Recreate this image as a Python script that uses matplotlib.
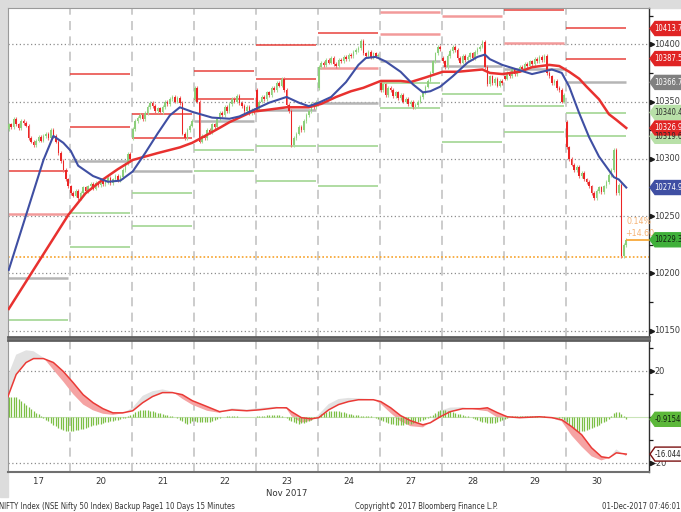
import numpy as np
import matplotlib
matplotlib.use("Agg")
import matplotlib.pyplot as plt
from matplotlib.patches import Polygon, Rectangle
from matplotlib.transforms import blended_transform_factory
from matplotlib import font_manager

# ---------------- data ----------------
days = ['17', '20', '21', '22', '23', '24', '27', '28', '29', '30']
bars_per_day = 25

close_17 = [10330, 10328, 10335, 10330, 10327, 10333, 10331, 10329, 10318, 10315, 10312, 10316, 10319,
            10316, 10320, 10322, 10318, 10325, 10320, 10315, 10305, 10298, 10290, 10282, 10276]
close_20 = [10270, 10268, 10272, 10266, 10270, 10275, 10272, 10276, 10278, 10274, 10279, 10277, 10282,
            10278, 10280, 10283, 10279, 10282, 10285, 10281, 10284, 10290, 10296, 10304, 10300]
close_21 = [10326, 10333, 10336, 10338, 10335, 10340, 10345, 10349, 10346, 10342, 10344, 10341, 10345,
            10350, 10348, 10352, 10354, 10350, 10353, 10349, 10322, 10318, 10325, 10329, 10333]
close_22 = [10362, 10350, 10315, 10320, 10318, 10325, 10323, 10330, 10328, 10335, 10340, 10338, 10345,
            10342, 10348, 10352, 10350, 10355, 10349, 10346, 10342, 10345, 10340, 10343, 10341]
close_23 = [10343, 10350, 10354, 10352, 10358, 10356, 10362, 10360, 10366, 10364, 10370, 10360, 10347,
            10342, 10312, 10318, 10322, 10328, 10325, 10333, 10338, 10342, 10348, 10345, 10350]
close_24 = [10380, 10384, 10382, 10386, 10384, 10388, 10383, 10381, 10386, 10385, 10389, 10387, 10391,
            10390, 10393, 10395, 10397, 10403, 10392, 10390, 10393, 10389, 10392, 10390, 10391]
close_27 = [10360, 10365, 10356, 10362, 10360, 10355, 10358, 10353, 10356, 10350, 10352, 10348, 10350,
            10345, 10347, 10350, 10354, 10358, 10363, 10368, 10375, 10385, 10392, 10398, 10396]
close_28 = [10385, 10380, 10390, 10394, 10398, 10395, 10388, 10384, 10390, 10386, 10389, 10392, 10388,
            10393, 10396, 10398, 10402, 10380, 10365, 10372, 10366, 10370, 10364, 10368, 10366]
close_29 = [10370, 10375, 10372, 10378, 10374, 10377, 10380, 10378, 10383, 10381, 10385, 10383, 10387,
            10385, 10389, 10386, 10390, 10375, 10372, 10366, 10368, 10362, 10360, 10350, 10356]
close_30 = [10310, 10300, 10295, 10290, 10293, 10285, 10288, 10282, 10280, 10276, 10270, 10266, 10272,
            10275, 10271, 10276, 10280, 10286, 10290, 10308, 10270, 10277, 10215, 10225, 10229.35]
day_open = [10326, 10276, 10318, 10352, 10360, 10362, 10366, 10388, 10372, 10332]

# moving averages (bar index, value)
ma_fast_x = [0, 14, 18, 22, 25, 28, 34, 40, 45, 50, 55, 60, 65, 69, 74, 82, 89, 93, 98, 105, 112, 117,
             121, 125, 130, 136, 141, 144, 148, 152, 158, 163, 167, 170, 174, 179, 185, 189, 192, 194,
             199, 205, 211, 215, 219, 223, 226, 230, 234, 238, 242, 244, 246, 249]
ma_fast_v = [10203, 10299, 10320, 10314, 10307, 10294, 10285, 10280, 10281, 10289, 10305, 10322, 10338,
             10345, 10341, 10336, 10335, 10337, 10342, 10349, 10354, 10349, 10346, 10349, 10354, 10367,
             10382, 10388, 10389, 10385, 10376, 10365, 10358, 10359, 10363, 10372, 10384, 10389, 10391,
             10387, 10382, 10378, 10374, 10376, 10378, 10375, 10363, 10340, 10319, 10302, 10290, 10284,
             10282, 10274.97]
ma_slow_x = [0, 24, 31, 38, 44, 50, 60, 69, 74, 80, 85, 89, 98, 105, 112, 121, 126, 132, 138, 143, 150,
             158, 162, 168, 175, 181, 191, 194, 199, 206, 211, 218, 222, 226, 230, 233, 238, 242, 245, 249]
ma_slow_v = [10169, 10251, 10270, 10282, 10291, 10299, 10305, 10310, 10314, 10321, 10327, 10332, 10341,
             10343, 10345, 10345, 10348, 10354, 10359, 10362, 10368, 10368, 10367, 10371, 10376, 10376,
             10378, 10375, 10374, 10376, 10380, 10382, 10381, 10376, 10370, 10363, 10352, 10339, 10334,
             10326.94]

# daily pivot levels (one value per day)
piv_r2 = [10289, 10374, 10339, 10377, 10399, 10410, 10428, np.nan, 10429.5, 10413.77]
piv_r1 = [10252, 10328, 10318, 10352, 10370, 10379, 10409, 10425, 10401, 10387.53]
piv_p = [10196, 10298, 10289, 10333, 10343, 10349, 10385, 10381, 10378, 10366.72]
piv_s1 = [10159, 10253, 10270, 10308, 10311, 10311, 10366, 10357, 10346, 10340.45]
piv_s2 = [np.nan, 10223, 10241, 10289, 10281, 10276, 10344, 10315, 10323, 10319.67]
ref_price = 10214.75
last_price = 10229.35

# MACD panel
macd_x = [-0.5, 3, 7, 10, 14, 18, 22, 26, 30, 34, 38, 42, 46, 50, 54, 58, 62, 66, 70, 74, 80, 85, 90, 96,
          101, 108, 112, 114, 118, 122, 125, 129, 133, 137, 141, 147, 150, 154, 158, 162, 167, 170, 174,
          178, 183, 190, 193, 197, 201, 206, 214, 219, 223, 227, 231, 235, 239, 242, 245, 249]
signal_v = [8.5, 18.6, 23.8, 25.5, 25.5, 23.8, 19.9, 15.0, 9.8, 6.3, 3.7, 1.9, 1.9, 2.8, 6.3, 9.0, 10.7,
            10.7, 9.8, 7.2, 4.6, 2.4, 3.2, 2.8, 3.2, 4.1, 4.1, 2.4, -0.2, -0.7, -0.2, 3.2, 5.5, 6.8, 7.6,
            7.6, 6.8, 4.1, 0.7, -1.5, -3.3, -2.4, 0.2, 2.4, 3.7, 3.7, 4.1, 2.0, 0.2, -0.2, 0.2, -0.2, -1.1,
            -4.1, -7.6, -13.3, -17.2, -17.7, -15.5, -16.04]
macd_v = [17.5, 27.2, 29.1, 28.7, 25.9, 20.6, 15.5, 10.0, 5.5, 3.0, 1.5, 1.0, 1.7, 4.2, 9.3, 11.3, 12.1,
          11.1, 8.0, 5.4, 2.8, 1.9, 3.9, 3.3, 4.0, 4.6, 3.7, 0.5, -2.4, -1.5, 1.2, 5.7, 7.9, 8.4, 8.2, 7.8,
          5.8, 1.8, -1.8, -3.9, -4.4, -2.2, 2.8, 4.2, 4.3, 3.0, 2.6, -0.1, -0.5, 0.4, 0.5, -0.4, -1.8,
          -8.0, -12.8, -17.0, -18.8, -17.7, -14.0, -16.96]
hist_17 = [9, 9, 9, 8.6, 8, 7.2, 6.3, 5.3, 4.4, 3.6, 2.8, 2, 1.2, 0.4, -0.2, -1, -1.8, -2.5, -3.4, -4,
           -4.8, -5.2, -5.5, -5.8, -6]
hist_20 = [-6, -5.9, -5.7, -5.5, -5.3, -5, -4.6, -4.2, -3.9, -3.6, -3.3, -3.1, -2.8, -2.6, -2.3, -2.1,
           -1.8, -1.5, -1.3, -1, -0.8, -0.5, -0.2, 0.6, 1]
hist_21 = [1.6, 2.2, 2.7, 3.1, 3.3, 3.2, 3.1, 2.9, 2.6, 2.3, 2, 1.7, 1.4, 1.1, 0.9, 0.6, 0.4, 0.2, -0.5,
           -1, -1.8, -2.5, -2.8, -2.5, -1.8]
hist_22 = [-1.8, -2, -2.1, -2.3, -2.3, -2.1, -2, -1.6, -1.2, -0.8, -0.5, -0.1, 0.3, 0.6, 0.7, 0.7, 0.6,
           0.4, 0.3, 0.2, 0.1, 0, 0.1, 0.2, 0.3]
hist_23 = [0.4, 0.5, 0.6, 0.7, 0.8, 0.8, 0.9, 1, 0.9, 0.8, 0.6, 0.3, -0.3, -1, -1.6, -2.1, -2.6, -2.8,
           -2.7, -2.5, -2.2, -1.8, -1.2, -0.5, 0.2]
hist_24 = [0.6, 1.2, 1.7, 2.1, 2.5, 2.7, 2.8, 2.8, 2.6, 2.4, 2.1, 1.9, 1.6, 1.4, 1.1, 0.9, 0.8, 0.7, 0.7,
           0.6, 0.5, 0.4, 0.2, -0.2, -0.7]
hist_27 = [-1, -1.5, -2, -2.6, -2.9, -3.1, -3.3, -3.3, -3.3, -3.2, -3.1, -3, -2.8, -2.6, -2.3, -2, -1.5,
           -1.1, -0.6, -0.2, 0.5, 1, 1.8, 2.5, 3.1]
hist_28 = [3.2, 3.1, 2.8, 2.5, 2.2, 1.8, 1.5, 1.2, 1, 0.7, 0.4, 0.1, -0.4, -0.8, -1.2, -1.5, -1.9, -2.2,
           -2.5, -2.7, -2.6, -2.4, -2, -1.5, -1]
hist_29 = [-0.6, -0.2, 0.2, 0.4, 0.5, 0.5, 0.6, 0.5, 0.5, 0.6, 0.5, 0.4, 0.5, 0.4, 0.3, 0.3, 0.4, 0.3,
           0.2, 0.1, 0, -0.1, -0.3, -0.5, -1]
hist_30 = [-2, -3.3, -4.3, -5.3, -5.9, -6.3, -6.2, -6, -5.5, -5, -4.6, -4.2, -3.7, -3.2, -2.7, -2.2, -1.5,
           -0.8, 0.6, 1.8, 2.4, 2.2, 1.4, 0.5, -0.9154]

price_ticks = [10150, 10200, 10250, 10300, 10350, 10400]
macd_ticks = [-20, 20]

# ---------------- figure ----------------
W, H = 681, 512
fig = plt.figure(figsize=(W / 100, H / 100), dpi=100, facecolor='white')
plt.rcParams['font.family'] = ['DejaVu Sans']
has_cond = any(f.name == 'DejaVu Sans' and str(f.stretch) in ('condensed', '75', 'semi-condensed')
               for f in font_manager.fontManager.ttflist)
stretch = 'condensed' if has_cond else 'normal'
small_fs = 6.0 if has_cond else 5.2
tag_fs = 5.5 if has_cond else 5.0

L, R = 7.5, 649.0
T1, B1 = 8.3, 337.0
T2, B2 = 339.5, 471.7
ax = fig.add_axes([L / W, 1 - B1 / H, (R - L) / W, (B1 - T1) / H])
axm = fig.add_axes([L / W, 1 - B2 / H, (R - L) / W, (B2 - T2) / H])

fig.add_artist(Rectangle((0, 1 - T1 / H), 1, T1 / H, transform=fig.transFigure,
                         color='#dcdcdc', zorder=-5))
fig.add_artist(Rectangle((0, 1 - 497 / H), L / W, 497 / H, transform=fig.transFigure,
                         color='#dcdcdc', zorder=-5))

closes = np.array(close_17 + close_20 + close_21 + close_22 + close_23 + close_24 +
                  close_27 + close_28 + close_29 + close_30, dtype=float)
hist = np.array(hist_17 + hist_20 + hist_21 + hist_22 + hist_23 + hist_24 +
                hist_27 + hist_28 + hist_29 + hist_30, dtype=float)
n = len(closes)
xb = np.arange(n)
opens = np.empty(n)
for d in range(len(days)):
    for i in range(bars_per_day):
        k = d * bars_per_day + i
        opens[k] = day_open[d] if i == 0 else closes[k - 1]

xmin = -0.5
xmax = -0.5 + (R - L) / 2.48
ylo, yhi = 10144.5, 10431.4
for a in (ax, axm):
    a.set_xlim(xmin, xmax)
    a.set_xticks([])
    a.set_yticks([])
    a.set_facecolor('white')
ax.set_ylim(ylo, yhi)
axm.set_ylim(-23.7, 33.8)

# grid
for v in price_ticks:
    ax.axhline(v, color='#8c8c8c', lw=0.9, ls=(0, (1, 2)), zorder=1)
for v in macd_ticks:
    axm.axhline(v, color='#8c8c8c', lw=0.9, ls=(0, (1, 2)), zorder=1)
for d in range(1, len(days)):
    for a in (ax, axm):
        a.axvline(d * bars_per_day - 0.5, color='#c8c8c8', lw=1.3, ls=(0, (5, 3.5)), zorder=1)

# pivot lines
faded = {(0, 'r1'), (5, 'r1'), (6, 'r2'), (6, 'r1'), (7, 'r1'), (8, 'r1')}
for d in range(len(days)):
    x0, x1 = d * bars_per_day - 0.3, d * bars_per_day + bars_per_day - 1.3
    for key, lev in (('r2', piv_r2), ('r1', piv_r1), ('p', piv_p), ('s1', piv_s1), ('s2', piv_s2)):
        v = lev[d]
        if np.isnan(v):
            continue
        if key.startswith('r'):
            col, lw = ('#f29a9a', 1.8) if (d, key) in faded else ('#e8413c', 1.1)
        elif key == 'p':
            col, lw = '#b5b5b5', 1.8
        else:
            col, lw = '#a9d99b', 1.3
        ax.plot([x0, x1], [v, v], color=col, lw=lw, zorder=2, solid_capstyle='butt')

# reference price line
ax.axhline(ref_price, color='#f7a22a', lw=1.2, ls=(0, (1, 1.3)), zorder=2)

# candles
up = closes >= opens
lo = np.minimum(opens, closes) - 1.6
hi = np.maximum(opens, closes) + 1.6
body = np.where(np.abs(closes - opens) < 0.8, 0.8, closes - opens)
ax.vlines(xb[up], lo[up], hi[up], color='#a8dc9a', lw=0.8, zorder=3)
ax.vlines(xb[~up], lo[~up], hi[~up], color='#f07070', lw=0.8, zorder=3)
ax.bar(xb[up], body[up], bottom=opens[up], width=0.62, color='#8ccf7b', lw=0, zorder=4)
ax.bar(xb[~up], body[~up], bottom=opens[~up], width=0.62, color='#ec2525', lw=0, zorder=4)

# moving averages
ax.plot(ma_slow_x, ma_slow_v, color='#e8312f', lw=1.8, zorder=5, solid_joinstyle='round')
ax.plot(ma_fast_x, ma_fast_v, color='#3f4fa3', lw=1.5, zorder=6, solid_joinstyle='round')

# last price line and change text
ax.plot([n - 1 + 0.3, xmax], [last_price, last_price], color='#f7a22a', lw=1.2, zorder=6, clip_on=False)
ax.annotate('0.14%', (n - 1, last_price), xytext=(0.5, 13.5), textcoords='offset points',
            fontsize=small_fs + 0.3, color='#f5b375', ha='left', va='center', fontstretch=stretch)
ax.annotate('+14.60', (n - 1, last_price), xytext=(-1, 4.6), textcoords='offset points',
            fontsize=small_fs + 0.3, color='#f5b375', ha='left', va='center', fontstretch=stretch)

# MACD panel
mx = np.array(macd_x, dtype=float)
sv = np.array(signal_v)
mv = np.array(macd_v)
axm.fill_between(mx, sv, mv, where=mv >= sv, interpolate=True, color='#e2e2e2', lw=0, zorder=2)
axm.fill_between(mx, sv, mv, where=mv < sv, interpolate=True, color='#f5a3a3', lw=0, zorder=2)
axm.axhline(0, color='#c9e4b8', lw=0.8, zorder=2)
axm.vlines(xb, 0, hist, color='#7cbf45', lw=0.9, zorder=3)
axm.plot(mx, sv, color='#ea3a36', lw=1.1, zorder=4)

# spines
for a in (ax, axm):
    a.spines['left'].set_color('#9a9a9a')
    a.spines['right'].set_color('#303030')
    a.spines['right'].set_linewidth(1.0)
ax.spines['top'].set_color('#9a9a9a')
ax.spines['bottom'].set_color('#5f5f5f')
ax.spines['bottom'].set_linewidth(2.0)
axm.spines['top'].set_color('#5f5f5f')
axm.spines['top'].set_linewidth(2.0)
axm.spines['bottom'].set_color('#707070')
axm.spines['bottom'].set_linewidth(1.5)

# right axis ticks & labels
def px_to_axfrac(px):
    return (px - L) / (R - L)

for a, ticks, minors in ((ax, price_ticks, [10175, 10225, 10275, 10325, 10375, 10425]),
                         (axm, macd_ticks, [30, 10, 0, -10])):
    tr = blended_transform_factory(a.transAxes, a.transData)
    a.plot([px_to_axfrac(R + 2.5)] * len(ticks), ticks, ls='none', marker='>', ms=3.0,
           color='#1a1a1a', transform=tr, clip_on=False, zorder=7)
    a.plot([px_to_axfrac(R + 2)] * len(minors), minors, ls='none', marker='_', ms=3,
           color='#1a1a1a', mew=0.9, transform=tr, clip_on=False, zorder=7)
    for v in ticks:
        a.text(px_to_axfrac(R + 5), v, f'{v}', transform=tr, fontsize=small_fs + 0.6, color='#3a3a3a',
               ha='left', va='center', clip_on=False, fontstretch=stretch)

# value tags
fig.canvas.draw()

def tag(a, val, txt, fc, tc, ec=None):
    yp = a.transData.transform((0, val))[1]
    h = 7.0
    pts = [(R + 1, yp), (R + 6, yp + h), (W + 20, yp + h), (W + 20, yp - h), (R + 6, yp - h)]
    pts = [(px / W, py / H) for px, py in pts]
    fig.add_artist(Polygon(pts, closed=True, transform=fig.transFigure, facecolor=fc,
                           edgecolor=ec if ec else fc, lw=1.0, zorder=8))
    fig.text((R + 5.5) / W, yp / H, txt, fontsize=tag_fs, color=tc, ha='left', va='center',
             zorder=9, fontstretch=stretch)

tag(ax, piv_s2[-1], '10319.67', '#b8e0a8', '#2a2a2a')
tag(ax, piv_r2[-1], '10413.77', '#e02424', 'white')
tag(ax, piv_r1[-1], '10387.53', '#e02424', 'white')
tag(ax, piv_p[-1], '10366.72', '#808080', 'white')
tag(ax, piv_s1[-1], '10340.45', '#b8e0a8', '#2a2a2a')
tag(ax, ma_slow_v[-1], '10326.94', '#e02424', 'white')
tag(ax, ma_fast_v[-1], '10274.97', '#3f4fa3', 'white')
tag(ax, last_price, '10229.35', '#3fb03a', '#102010')
tag(axm, hist[-1], '-0.9154', '#5cb83a', '#102010')
tag(axm, signal_v[-1], '-16.0444', 'white', '#202020', ec='#7a1010')

# x labels and footer
for d, lab in enumerate(days):
    cx = L + (d * bars_per_day + bars_per_day / 2 - 0.5 - xmin) * 2.48
    fig.text(cx / W, 1 - 481 / H, lab, fontsize=small_fs + 0.8, color='#333333', ha='center',
             va='center', fontstretch=stretch)
cx23 = L + (4 * bars_per_day + bars_per_day / 2 - 0.5 - xmin) * 2.48
fig.text(cx23 / W, 1 - 493 / H, 'Nov 2017', fontsize=small_fs + 0.8, color='#333333', ha='center',
         va='center', fontstretch=stretch)
fig.text(-1 / W, 1 - 506.5 / H, 'NIFTY Index (NSE Nifty 50 Index) Backup Page1 10 Days 15 Minutes',
         fontsize=small_fs - 0.4, color='#333333', ha='left', va='center', fontstretch=stretch)
fig.text(355 / W, 1 - 506.5 / H, 'Copyright\u00a9 2017 Bloomberg Finance L.P.', fontsize=small_fs - 0.4,
         color='#333333', ha='left', va='center', fontstretch=stretch)
fig.text(680 / W, 1 - 506.5 / H, '01-Dec-2017 07:46:01', fontsize=small_fs - 0.4, color='#333333',
         ha='right', va='center', fontstretch=stretch)

fig.savefig('out.png', dpi=100, facecolor='white')
